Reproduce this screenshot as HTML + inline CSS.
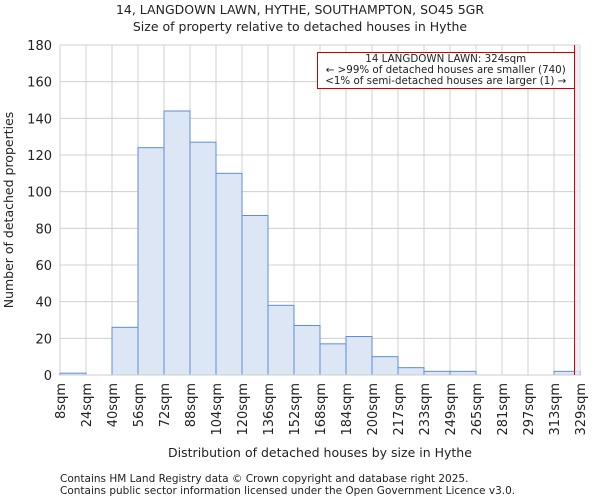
<!DOCTYPE html>
<html><head><meta charset="utf-8"><style>
body{margin:0;background:#fff;font-family:"DejaVu Sans","Liberation Sans",sans-serif;}
svg text{font-family:"DejaVu Sans","Liberation Sans",sans-serif;fill:#222;}
</style></head><body>
<svg id="c" width="600" height="500">
<text x="300" y="14" text-anchor="middle" font-size="12.5">14, LANGDOWN LAWN, HYTHE, SOUTHAMPTON, SO45 5GR</text>
<text x="300" y="31" text-anchor="middle" font-size="12.5">Size of property relative to detached houses in Hythe</text>
<g id="grid"></g><g id="bars"></g><g id="axes"></g>
<text x="320" y="457" text-anchor="middle" font-size="12.5">Distribution of detached houses by size in Hythe</text>
<text transform="translate(13,210) rotate(-90)" text-anchor="middle" font-size="12.5">Number of detached properties</text>
<text x="60" y="482" font-size="10.5" fill="#555">Contains HM Land Registry data © Crown copyright and database right 2025.</text>
<text x="60" y="494" font-size="10.5" fill="#555">Contains public sector information licensed under the Open Government Licence v3.0.</text>
</svg>
<script>
const categories=["8sqm","24sqm","40sqm","56sqm","72sqm","88sqm","104sqm","120sqm","136sqm","152sqm","168sqm","184sqm","200sqm","217sqm","233sqm","249sqm","265sqm","281sqm","297sqm","313sqm","329sqm"];
const counts=[1,0,26,124,144,127,110,87,38,27,17,21,10,4,2,2,0,0,0,2];
const yTicks=[0,20,40,60,80,100,120,140,160,180];
const binStart=8, binWidth=16, propertySize=324;
const X0=60,X1=580,Y0=375,Y1=45,YMAX=180;
const nb=counts.length;
const xs=v=>X0+(v-binStart)/(binWidth*nb)*(X1-X0);
const xi=i=>X0+i*(X1-X0)/nb;
const ys=v=>Y0-v/YMAX*(Y0-Y1);
const NS="http://www.w3.org/2000/svg";
function mk(t,a,p){const e=document.createElementNS(NS,t);for(const k in a)e.setAttribute(k,a[k]);p.appendChild(e);return e;}
const grid=document.getElementById('grid'),bars=document.getElementById('bars'),axes=document.getElementById('axes');
const px=Math.round(xs(propertySize))+0.5;
yTicks.forEach(t=>{
 const l=mk('line',{x1:X0,x2:X1,y1:ys(t),y2:ys(t),stroke:'#d0d0d0'},grid);
 
 
 const tx=mk('text',{x:X0-8,y:ys(t)+5,'text-anchor':'end','font-size':'13'},axes);
 tx.textContent=t;
 
 
});
categories.forEach((c,i)=>{
 const x=xi(i);
 const l=mk('line',{x1:x,x2:x,y1:Y1,y2:Y0,stroke:'#d0d0d0'},grid);
 
 
 const tx=mk('text',{transform:`translate(${x+5},${Y0+8}) rotate(-90)`,'text-anchor':'end','font-size':'13'},axes);
 tx.textContent=c;
 
 
});
counts.forEach((v,i)=>{
 const r=mk('rect',{x:xi(i),y:ys(v),width:xi(i+1)-xi(i),height:Y0-ys(v),fill:'#dce6f4',stroke:'#5b8fd6','stroke-width':1},bars);
 
 
});
const sh=mk('rect',{x:px,y:Y1,width:X1-px,height:Y0-Y1,fill:'#e6ecf7',opacity:0.8},bars);


const ax=mk('line',{x1:X0,x2:X1,y1:Y0,y2:Y0,stroke:'#ccc'},axes);


const rl=mk('line',{x1:px,x2:px,y1:Y1,y2:Y0,stroke:'#dd0000','stroke-width':1},axes);


const g=mk('g',{},axes);


mk('rect',{x:317.5,y:52.5,width:px-317.5,height:36,fill:'#fff',stroke:'#cc0000'},g);
["14 LANGDOWN LAWN: 324sqm","← >99% of detached houses are smaller (740)","<1% of semi-detached houses are larger (1) →"].forEach((s,i)=>{
 const t=mk('text',{x:(317+px)/2,y:62+i*11,'text-anchor':'middle','font-size':'10.3'},g);
 t.textContent=s;
 
 
});
</script>
</body></html>
